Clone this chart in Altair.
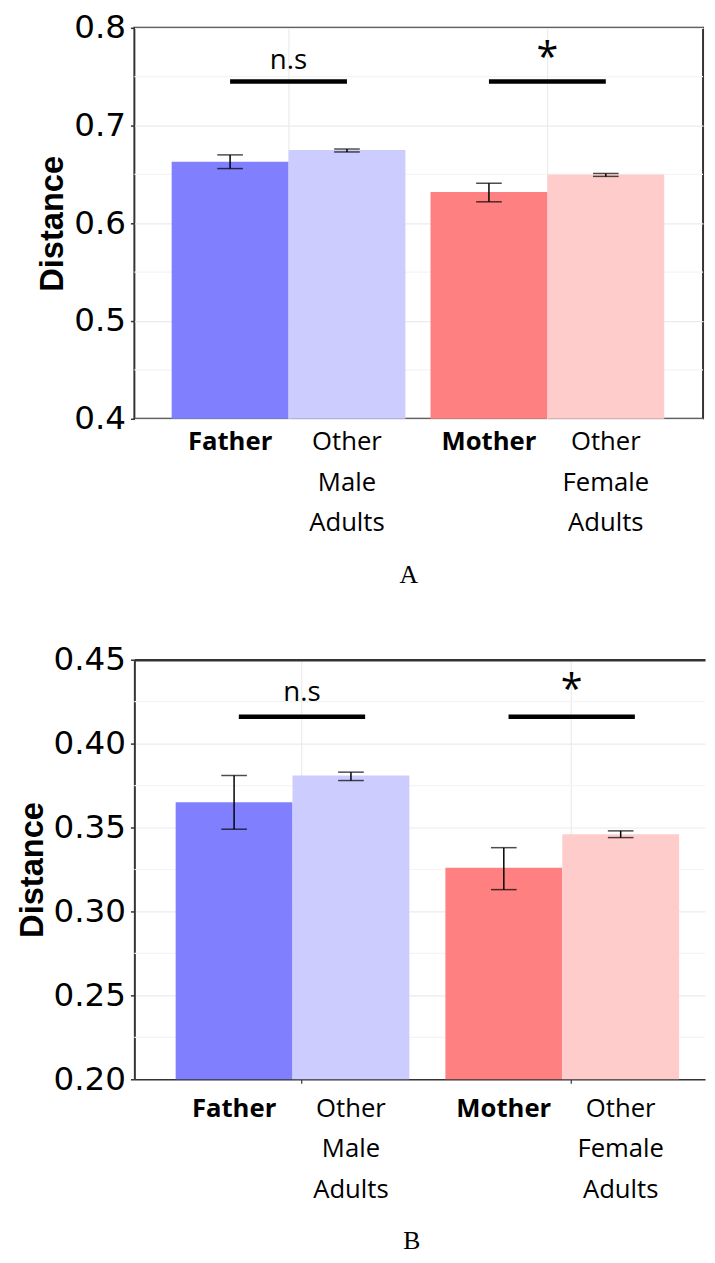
import altair as alt
import pandas as pd

# ---------------- data ----------------
bar_keys = ["Father", "Other Male Adults", "Mother", "Other Female Adults"]
bar_labels = ["Father", "Other\nMale\nAdults", "Mother", "Other\nFemale\nAdults"]
bar_groups = ["Male", "Male", "Female", "Female"]
bar_roles = ["Parent", "Other", "Parent", "Other"]
bar_colors = ["#8080ff", "#ccccff", "#ff8080", "#ffcccc"]

# Panel A
a_mean = [0.663, 0.675, 0.632, 0.650]
a_low = [0.656, 0.673, 0.622, 0.648]
a_high = [0.670, 0.676, 0.641, 0.651]

# Panel B
b_mean = [0.365, 0.381, 0.326, 0.346]
b_low = [0.349, 0.378, 0.313, 0.344]
b_high = [0.381, 0.383, 0.338, 0.348]

sig_groups = ["Male", "Female"]
sig_marks = ["n.s", "*"]
a_sig_bar = [0.745, 0.745]
a_sig_text = [0.766, 0.768]
b_sig_bar = [0.416, 0.416]
b_sig_text = [0.430, 0.431]

a_ticks = [0.4, 0.5, 0.6, 0.7, 0.8]
a_minor = [0.45, 0.55, 0.65, 0.75]
b_ticks = [0.20, 0.25, 0.30, 0.35, 0.40, 0.45]
b_minor = [0.225, 0.275, 0.325, 0.375, 0.425]

GROUP_ORDER = ["Male", "Female"]
ROLE_ORDER = ["Parent", "Other"]


def panel(mean, low, high, sig_bar, sig_text, ticks, minor, fmt, width, height,
          pad_inner, pad_outer, align, label_y, caption, cap_dx, cap_offset, full_frame):
    bars = pd.DataFrame({"key": bar_keys, "label": bar_labels, "group": bar_groups,
                         "role": bar_roles, "mean": mean, "low": low, "high": high})
    sig = pd.DataFrame({"group": sig_groups, "mark": sig_marks,
                        "bar": sig_bar, "text": sig_text})
    grid = pd.DataFrame({"v": minor})

    yscale = alt.Scale(domain=[ticks[0], ticks[-1]], nice=False, zero=False)
    xscale = alt.Scale(domain=GROUP_ORDER, paddingInner=pad_inner,
                       paddingOuter=pad_outer, align=align)
    yaxis = alt.Axis(values=ticks, format=fmt, title="Distance", grid=True,
                     gridColor="#ebebeb", gridWidth=1.2,
                     labelFont="DejaVu Sans", labelFontSize=33, labelColor="black",
                     labelPadding=5, tickSize=4, tickColor="#333333", tickWidth=1.5,
                     domain=not full_frame, domainColor="#333333", domainWidth=2,
                     titleFont="Liberation Sans", titleFontSize=33, titleFontWeight="bold",
                     titleColor="black", titlePadding=4)
    bottom_axis = alt.Axis(title=None, labels=False, ticks=not full_frame, tickSize=4,
                           tickColor="#333333", tickWidth=1.2, grid=True,
                           gridColor="#ebebeb", gridWidth=1.2,
                           domain=not full_frame, domainColor="#333333", domainWidth=1.5)
    top_axis = alt.Axis(orient="top", title=None, labels=False, ticks=False, grid=False,
                        domain=True, domainColor="#333333", domainWidth=2.5)

    def xenc(axis):
        if axis is None:
            return alt.X("group:N", scale=xscale, axis=None)
        return alt.X("group:N", scale=xscale, axis=axis)

    other_axis = bottom_axis if full_frame else None
    off = alt.XOffset("role:N", sort=ROLE_ORDER,
                      scale=alt.Scale(paddingInner=0, paddingOuter=0))
    Y = lambda f: alt.Y(f, scale=yscale, axis=yaxis)

    minor_grid = alt.Chart(grid).mark_rule(color="#f4f4f4", strokeWidth=1.2).encode(
        y=Y("v:Q"))

    bar_layer = alt.Chart(bars).mark_bar(clip=True).encode(
        x=xenc(bottom_axis), xOffset=off, y=Y("mean:Q"),
        color=alt.Color("key:N", scale=alt.Scale(domain=bar_keys, range=bar_colors),
                        legend=None))

    err = alt.Chart(bars).mark_rule(color="black", strokeWidth=1.5).encode(
        x=xenc(other_axis), xOffset=off, y=Y("low:Q"), y2="high:Q")
    cap_lo = alt.Chart(bars).mark_tick(color="black", thickness=1.5, size=26,
                                       orient="horizontal").encode(
        x=xenc(other_axis), xOffset=off, y=Y("low:Q"))
    cap_hi = alt.Chart(bars).mark_tick(color="black", thickness=1.5, size=26,
                                       orient="horizontal").encode(
        x=xenc(other_axis), xOffset=off, y=Y("high:Q"))

    sig_rule = alt.Chart(sig).mark_rule(color="black", strokeWidth=4.5).encode(
        x=alt.X("group:N", scale=xscale, bandPosition=0.25,
                axis=bottom_axis if full_frame else top_axis),
        x2=alt.X2("group", bandPosition=0.75),
        y=Y("bar:Q"))
    sig_txt = alt.Chart(sig).mark_text(font="Open Sans", color="black",
                                       baseline="middle").encode(
        x=xenc(other_axis), y=Y("text:Q"), text="mark:N",
        size=alt.Size("mark:N", scale=alt.Scale(domain=sig_marks, range=[28, 40]),
                      legend=None))

    lab_bold = alt.Chart(bars).transform_filter("datum.role == 'Parent'").mark_text(
        font="Open Sans", fontSize=26, fontWeight="bold", color="black",
        baseline="top", align="center", lineBreak="\n", lineHeight=41).encode(
        x=xenc(other_axis), xOffset=off, y=alt.value(label_y), text="label:N")
    lab_norm = alt.Chart(bars).transform_filter("datum.role == 'Other'").mark_text(
        font="Open Sans", fontSize=26, fontWeight="normal", color="black",
        baseline="top", align="center", lineBreak="\n", lineHeight=41).encode(
        x=xenc(other_axis), xOffset=off, y=alt.value(label_y), text="label:N")

    layered = alt.layer(minor_grid, bar_layer, err, cap_lo, cap_hi, sig_rule, sig_txt,
                        lab_bold, lab_norm)
    if not full_frame:
        layered = layered.resolve_axis(x="independent")
    props = dict(width=width, height=height,
                 title=alt.TitleParams(caption, orient="bottom", anchor="middle",
                                       frame="group", font="Liberation Serif",
                                       fontSize=26, fontWeight="normal", color="black",
                                       offset=cap_offset, dx=cap_dx))
    if full_frame:
        props["view"] = alt.ViewBackground(stroke="#333333", strokeWidth=2)
    return layered.properties(**props)


chart_a = panel(a_mean, a_low, a_high, a_sig_bar, a_sig_text, a_ticks, a_minor, ".1f",
                576, 396, 0.097, 0.147, 0.49, 407, "A", -10, 26, True)
chart_b = panel(b_mean, b_low, b_high, b_sig_bar, b_sig_text, b_ticks, b_minor, ".2f",
                578, 425, 0.0633, 0.0895, 0.855, 442, "B", -8, 26, False)

chart = alt.vconcat(chart_a, chart_b, spacing=55).properties(
    padding={"left": 8, "top": -5, "right": 0, "bottom": 0}
).configure_view(stroke="transparent")

chart.save("out.html", embed_options={"renderer": "svg", "actions": False})
